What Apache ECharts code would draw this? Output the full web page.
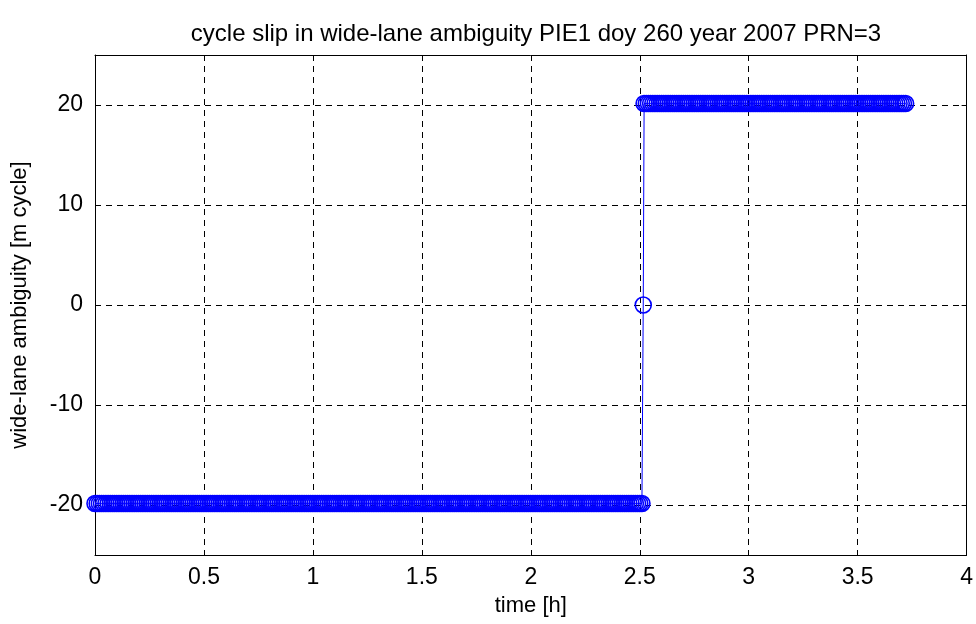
<!DOCTYPE html>
<html>
<head>
<meta charset="utf-8">
<script src="https://cdn.jsdelivr.net/npm/echarts@6/dist/echarts.min.js"></script>
<style>html,body{margin:0;padding:0;background:#fff;}#c{width:976px;height:624px;}</style>
</head>
<body>
<div id="c"></div>
<script>
// ---- data ----
var titleText = 'cycle slip in wide-lane ambiguity PIE1 doy 260 year 2007 PRN=3';
var xName = 'time [h]';
var yName = 'wide-lane ambiguity [m cycle]';
var xTicks = [0, 0.5, 1, 1.5, 2, 2.5, 3, 3.5, 4];
var yTicks = [-20, -10, 0, 10, 20];

// epochs before the slip (time in hours)
var lowTimes = [
  0,0.01,0.02,0.03,0.04,0.05,0.06,0.07,0.08,0.09,
  0.1,0.11,0.12,0.13,0.14,0.15,0.16,0.17,0.18,0.19,
  0.2,0.21,0.22,0.23,0.24,0.25,0.26,0.27,0.28,0.29,
  0.3,0.31,0.32,0.33,0.34,0.35,0.36,0.37,0.38,0.39,
  0.4,0.41,0.42,0.43,0.44,0.45,0.46,0.47,0.48,0.49,
  0.5,0.51,0.52,0.53,0.54,0.55,0.56,0.57,0.58,0.59,
  0.6,0.61,0.62,0.63,0.64,0.65,0.66,0.67,0.68,0.69,
  0.7,0.71,0.72,0.73,0.74,0.75,0.76,0.77,0.78,0.79,
  0.8,0.81,0.82,0.83,0.84,0.85,0.86,0.87,0.88,0.89,
  0.9,0.91,0.92,0.93,0.94,0.95,0.96,0.97,0.98,0.99,
  1,1.01,1.02,1.03,1.04,1.05,1.06,1.07,1.08,1.09,
  1.1,1.11,1.12,1.13,1.14,1.15,1.16,1.17,1.18,1.19,
  1.2,1.21,1.22,1.23,1.24,1.25,1.26,1.27,1.28,1.29,
  1.3,1.31,1.32,1.33,1.34,1.35,1.36,1.37,1.38,1.39,
  1.4,1.41,1.42,1.43,1.44,1.45,1.46,1.47,1.48,1.49,
  1.5,1.51,1.52,1.53,1.54,1.55,1.56,1.57,1.58,1.59,
  1.6,1.61,1.62,1.63,1.64,1.65,1.66,1.67,1.68,1.69,
  1.7,1.71,1.72,1.73,1.74,1.75,1.76,1.77,1.78,1.79,
  1.8,1.81,1.82,1.83,1.84,1.85,1.86,1.87,1.88,1.89,
  1.9,1.91,1.92,1.93,1.94,1.95,1.96,1.97,1.98,1.99,
  2,2.01,2.02,2.03,2.04,2.05,2.06,2.07,2.08,2.09,
  2.1,2.11,2.12,2.13,2.14,2.15,2.16,2.17,2.18,2.19,
  2.2,2.21,2.22,2.23,2.24,2.25,2.26,2.27,2.28,2.29,
  2.3,2.31,2.32,2.33,2.34,2.35,2.36,2.37,2.38,2.39,
  2.4,2.41,2.42,2.43,2.44,2.45,2.46,2.47,2.48,2.49,
  2.5,2.51
];
var lowValues = [
  -19.85,-19.85,-19.85,-19.85,-19.85,-19.85,-19.85,-19.85,-19.85,-19.85,
  -19.85,-19.85,-19.85,-19.85,-19.85,-19.85,-19.85,-19.85,-19.85,-19.85,
  -19.85,-19.85,-19.85,-19.85,-19.85,-19.85,-19.85,-19.85,-19.85,-19.85,
  -19.85,-19.85,-19.85,-19.85,-19.85,-19.85,-19.85,-19.85,-19.85,-19.85,
  -19.85,-19.85,-19.85,-19.85,-19.85,-19.85,-19.85,-19.85,-19.85,-19.85,
  -19.85,-19.85,-19.85,-19.85,-19.85,-19.85,-19.85,-19.85,-19.85,-19.85,
  -19.85,-19.85,-19.85,-19.85,-19.85,-19.85,-19.85,-19.85,-19.85,-19.85,
  -19.85,-19.85,-19.85,-19.85,-19.85,-19.85,-19.85,-19.85,-19.85,-19.85,
  -19.85,-19.85,-19.85,-19.85,-19.85,-19.85,-19.85,-19.85,-19.85,-19.85,
  -19.85,-19.85,-19.85,-19.85,-19.85,-19.85,-19.85,-19.85,-19.85,-19.85,
  -19.85,-19.85,-19.85,-19.85,-19.85,-19.85,-19.85,-19.85,-19.85,-19.85,
  -19.85,-19.85,-19.85,-19.85,-19.85,-19.85,-19.85,-19.85,-19.85,-19.85,
  -19.85,-19.85,-19.85,-19.85,-19.85,-19.85,-19.85,-19.85,-19.85,-19.85,
  -19.85,-19.85,-19.85,-19.85,-19.85,-19.85,-19.85,-19.85,-19.85,-19.85,
  -19.85,-19.85,-19.85,-19.85,-19.85,-19.85,-19.85,-19.85,-19.85,-19.85,
  -19.85,-19.85,-19.85,-19.85,-19.85,-19.85,-19.85,-19.85,-19.85,-19.85,
  -19.85,-19.85,-19.85,-19.85,-19.85,-19.85,-19.85,-19.85,-19.85,-19.85,
  -19.85,-19.85,-19.85,-19.85,-19.85,-19.85,-19.85,-19.85,-19.85,-19.85,
  -19.85,-19.85,-19.85,-19.85,-19.85,-19.85,-19.85,-19.85,-19.85,-19.85,
  -19.85,-19.85,-19.85,-19.85,-19.85,-19.85,-19.85,-19.85,-19.85,-19.85,
  -19.85,-19.85,-19.85,-19.85,-19.85,-19.85,-19.85,-19.85,-19.85,-19.85,
  -19.85,-19.85,-19.85,-19.85,-19.85,-19.85,-19.85,-19.85,-19.85,-19.85,
  -19.85,-19.85,-19.85,-19.85,-19.85,-19.85,-19.85,-19.85,-19.85,-19.85,
  -19.85,-19.85,-19.85,-19.85,-19.85,-19.85,-19.85,-19.85,-19.85,-19.85,
  -19.85,-19.85,-19.85,-19.85,-19.85,-19.85,-19.85,-19.85,-19.85,-19.85,
  -19.85,-19.85
];
// the single epoch during the slip
var slipTimes = [2.516];
var slipValues = [0];
// epochs after the slip
var highTimes = [
  2.52,2.53,2.54,2.55,2.56,2.57,2.58,2.59,
  2.6,2.61,2.62,2.63,2.64,2.65,2.66,2.67,2.68,2.69,
  2.7,2.71,2.72,2.73,2.74,2.75,2.76,2.77,2.78,2.79,
  2.8,2.81,2.82,2.83,2.84,2.85,2.86,2.87,2.88,2.89,
  2.9,2.91,2.92,2.93,2.94,2.95,2.96,2.97,2.98,2.99,
  3,3.01,3.02,3.03,3.04,3.05,3.06,3.07,3.08,3.09,
  3.1,3.11,3.12,3.13,3.14,3.15,3.16,3.17,3.18,3.19,
  3.2,3.21,3.22,3.23,3.24,3.25,3.26,3.27,3.28,3.29,
  3.3,3.31,3.32,3.33,3.34,3.35,3.36,3.37,3.38,3.39,
  3.4,3.41,3.42,3.43,3.44,3.45,3.46,3.47,3.48,3.49,
  3.5,3.51,3.52,3.53,3.54,3.55,3.56,3.57,3.58,3.59,
  3.6,3.61,3.62,3.63,3.64,3.65,3.66,3.67,3.68,3.69,
  3.7,3.71,3.72
];
var highValues = [
  20.15,20.15,20.15,20.15,20.15,20.15,20.15,20.15,
  20.15,20.15,20.15,20.15,20.15,20.15,20.15,20.15,20.15,20.15,
  20.15,20.15,20.15,20.15,20.15,20.15,20.15,20.15,20.15,20.15,
  20.15,20.15,20.15,20.15,20.15,20.15,20.15,20.15,20.15,20.15,
  20.15,20.15,20.15,20.15,20.15,20.15,20.15,20.15,20.15,20.15,
  20.15,20.15,20.15,20.15,20.15,20.15,20.15,20.15,20.15,20.15,
  20.15,20.15,20.15,20.15,20.15,20.15,20.15,20.15,20.15,20.15,
  20.15,20.15,20.15,20.15,20.15,20.15,20.15,20.15,20.15,20.15,
  20.15,20.15,20.15,20.15,20.15,20.15,20.15,20.15,20.15,20.15,
  20.15,20.15,20.15,20.15,20.15,20.15,20.15,20.15,20.15,20.15,
  20.15,20.15,20.15,20.15,20.15,20.15,20.15,20.15,20.15,20.15,
  20.15,20.15,20.15,20.15,20.15,20.15,20.15,20.15,20.15,20.15,
  20.15,20.15,20.15
];

// ---- build chart ----
var times = lowTimes.concat(slipTimes, highTimes);
var values = lowValues.concat(slipValues, highValues);
var seriesData = times.map(function (t, i) { return [t, values[i]]; });

var FONT = 'Liberation Sans, Arial, Helvetica, sans-serif';
var gridDash = { color: '#000', width: 1, type: [6, 5] };

var chart = echarts.init(document.getElementById('c'), null, { renderer: 'canvas' });
chart.setOption({
  animation: false,
  backgroundColor: '#fff',
  title: {
    text: titleText, left: 531, top: 17, textAlign: 'center',
    textStyle: { fontFamily: FONT, fontSize: 24, fontWeight: 'normal', color: '#000' }
  },
  grid: { left: 95, right: 7, top: 55, bottom: 69, containLabel: false },
  xAxis: [{
    type: 'value', min: 0, max: 4, interval: 0.5, position: 'bottom',
    name: xName, nameLocation: 'middle', nameGap: 40,
    nameTextStyle: { fontFamily: FONT, fontSize: 22, color: '#000' },
    axisLine: { show: true, onZero: false, lineStyle: { color: '#000', width: 1 } },
    axisTick: { show: true, inside: true, length: 5, lineStyle: { color: '#000' } },
    axisLabel: { fontFamily: FONT, fontSize: 23, color: '#000', margin: 11,
      formatter: function (v) { return String(v); } },
    splitLine: { show: true, lineStyle: gridDash },
    z: 1
  }, {
    type: 'value', min: 0, max: 4, interval: 0.5, position: 'top',
    axisLine: { show: true, onZero: false, lineStyle: { color: '#000', width: 1 } },
    axisTick: { show: true, inside: true, length: 5, lineStyle: { color: '#000' } },
    axisLabel: { show: false }, splitLine: { show: false }
  }],
  yAxis: [{
    type: 'value', min: -25, max: 25, position: 'left',
    name: yName, nameLocation: 'middle', nameGap: 64, nameRotate: 90,
    nameTextStyle: { fontFamily: FONT, fontSize: 22, color: '#000' },
    axisLine: { show: true, onZero: false, lineStyle: { color: '#000', width: 1 } },
    axisTick: { show: true, inside: true, length: 5, customValues: yTicks, lineStyle: { color: '#000' } },
    axisLabel: { fontFamily: FONT, fontSize: 23, color: '#000', margin: 12, customValues: yTicks },
    splitLine: { show: false }
  }, {
    type: 'value', min: -25, max: 25, position: 'right',
    axisLine: { show: true, onZero: false, lineStyle: { color: '#000', width: 1 } },
    axisTick: { show: true, inside: true, length: 5, customValues: yTicks, lineStyle: { color: '#000' } },
    axisLabel: { show: false }, splitLine: { show: false }
  }],
  series: [{
    type: 'line', name: 'grid', data: [], z: 1, silent: true,
    markLine: {
      silent: true, symbol: ['none', 'none'], animation: false, z: 1,
      label: { show: false },
      lineStyle: gridDash,
      data: yTicks.map(function (v) { return { yAxis: v }; })
    }
  }, {
    type: 'line', name: 'ambiguity', data: seriesData, z: 6,
    xAxisIndex: 0, yAxisIndex: 0,
    symbol: 'circle', symbolSize: 16, showSymbol: true, showAllSymbol: true,
    itemStyle: { color: 'rgba(0,0,255,0)', borderColor: '#0000ff', borderWidth: 1.6 },
    lineStyle: { color: '#0000ff', width: 1 },
    emphasis: { disabled: true }
  }]
});
</script>
</body>
</html>
